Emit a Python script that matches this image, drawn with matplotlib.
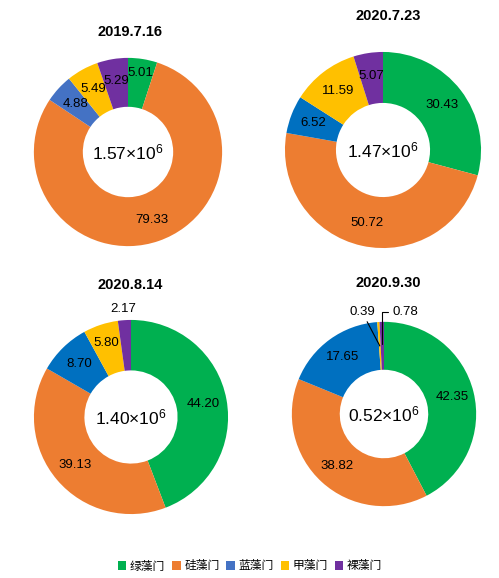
import numpy as np
import matplotlib.pyplot as plt
from matplotlib.patches import Patch

plt.rcParams['font.family'] = ['Liberation Sans', 'DejaVu Sans']
plt.rcParams['mathtext.fontset'] = 'custom'
plt.rcParams['mathtext.rm'] = 'Liberation Sans'
plt.rcParams['mathtext.it'] = 'Liberation Sans'

phyla = ['绿藻门', '硅藻门', '蓝藻门', '甲藻门', '裸藻门']

dates = ['2019.7.16', '2020.7.23', '2020.8.14', '2020.9.30']
totals = ['1.57', '1.47', '1.40', '0.52']

v_2019_0716 = [5.01, 79.33, 4.88, 5.49, 5.29]
v_2020_0723 = [30.43, 50.72, 6.52, 11.59, 5.07]
v_2020_0814 = [44.20, 39.13, 8.70, 5.80, 2.17]
v_2020_0930 = [42.35, 38.82, 17.65, 0.39, 0.78]
values = [v_2019_0716, v_2020_0723, v_2020_0814, v_2020_0930]

green, orange, yellow, purple = '#00B050', '#ED7D31', '#FFC000', '#7030A0'
blue_light, blue = '#4472C4', '#0070C0'
color_sets = [
    [green, orange, blue_light, yellow, purple],
    [green, orange, blue, yellow, purple],
    [green, orange, blue, yellow, purple],
    [green, orange, blue, yellow, purple],
]

W, H = 499, 578
# centre x, centre y, radius (pixels) ; title position
layout = [
    (128, 152, 96, (130, 32)),
    (383, 150, 100, (388, 16)),
    (131, 417, 99, (130, 285)),
    (384, 414, 94, (388, 283)),
]

fig = plt.figure(figsize=(W / 100, H / 100), dpi=100)

# label radius overrides: (chart, slice) -> radius
label_r = {(0, 0): 0.85, (2, 3): 0.8}
fs = 9.5

for i, (vals, cols, (cx, cy, r, (tx, ty))) in enumerate(zip(values, color_sets, layout)):
    ax = fig.add_axes([(cx - r) / W, 1 - (cy + r) / H, 2 * r / W, 2 * r / H])
    wedges, _ = ax.pie(vals, colors=cols, startangle=90, counterclock=False,
                       radius=1, wedgeprops=dict(width=0.52, linewidth=0))
    ax.set_xlim(-1.02, 1.02)
    ax.set_ylim(-1.02, 1.02)
    ax.axis('off')

    for j, w in enumerate(wedges):
        mid = np.deg2rad((w.theta1 + w.theta2) / 2)
        txt = f'{vals[j]:.2f}'
        if i == 2 and j == 4:
            ax.text(1.12 * np.cos(mid), 1.12 * np.sin(mid), txt,
                    ha='center', va='center', fontsize=fs, clip_on=False)
        elif i == 3 and j == 3:
            ax.annotate(txt, xy=(0.74 * np.cos(mid), 0.74 * np.sin(mid)),
                        xytext=(-0.1, 1.11), ha='right', va='center', fontsize=fs,
                        annotation_clip=False,
                        arrowprops=dict(arrowstyle='-', color='black', lw=0.8,
                                        shrinkA=1, shrinkB=0))
        elif i == 3 and j == 4:
            ax.annotate(txt, xy=(0.76 * np.cos(mid), 0.76 * np.sin(mid)),
                        xytext=(0.09, 1.11), ha='left', va='center', fontsize=fs,
                        annotation_clip=False,
                        arrowprops=dict(arrowstyle='-', color='black', lw=0.8,
                                        connectionstyle='angle,angleA=0,angleB=90,rad=0',
                                        shrinkA=1, shrinkB=0))
        else:
            rr = label_r.get((i, j), 0.76)
            ax.text(rr * np.cos(mid), rr * np.sin(mid), txt,
                    ha='center', va='center', fontsize=fs)

    ax.text(0, 0, totals[i] + '×10$^{6}$', ha='center', va='center', fontsize=12.5)
    fig.text(tx / W, 1 - ty / H, dates[i], ha='center', va='center',
             fontsize=10.5, fontweight='bold')

handles = [Patch(facecolor=c) for c in [green, orange, blue_light, yellow, purple]]
fig.legend(handles, phyla, loc='center', bbox_to_anchor=(250 / W, 1 - 566 / H),
           ncol=5, frameon=False, handlelength=0.7, handleheight=0.7,
           handletextpad=0.3, columnspacing=0.6,
           prop={'family': ['Noto Sans CJK SC', 'DejaVu Sans'], 'size': 8.5})

fig.savefig('out.png', dpi=100)
